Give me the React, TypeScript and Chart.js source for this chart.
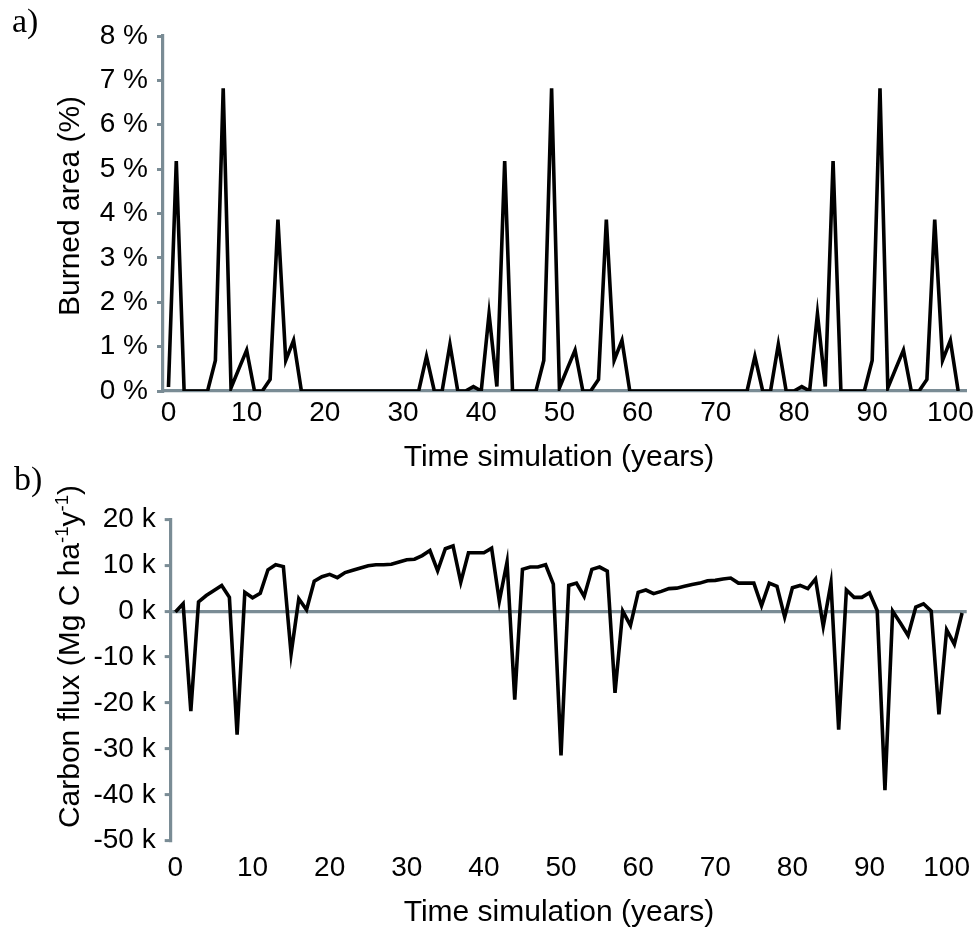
import React, { useEffect, useRef } from 'react';
import { Chart, registerables } from 'chart.js';

Chart.register(...registerables);

const GRAY = '#7a8c95';
const SANS = '"Liberation Sans", Arial, sans-serif';
const SERIF = '"Liberation Serif", "Times New Roman", serif';

// x-axis tick labels (years)
const xTickValues = [0, 10, 20, 30, 40, 50, 60, 70, 80, 90, 100];
// y-axis ticks
const burnedTicks = [0, 1, 2, 3, 4, 5, 6, 7, 8];
const fluxTicks = [-50000, -40000, -30000, -20000, -10000, 0, 10000, 20000];

// a) Burned area (%) per simulated year (years 0..101)
const burnedArea = [
  0.09, 5.18, 0, 0, 0, 0, 0.69, 6.82, 0.07, 0.5,
  0.92, 0, 0, 0.26, 3.86, 0.69, 1.14, 0, 0, 0,
  0, 0, 0, 0, 0, 0, 0, 0, 0, 0,
  0, 0, 0, 0.78, 0, 0, 1.05, 0, 0, 0.1,
  0, 1.74, 0.1, 5.18, 0, 0, 0, 0, 0.69, 6.82,
  0.07, 0.5, 0.92, 0, 0, 0.26, 3.86, 0.69, 1.14, 0,
  0, 0, 0, 0, 0, 0, 0, 0, 0, 0,
  0, 0, 0, 0, 0, 0.78, 0, 0, 1.05, 0,
  0, 0.1, 0, 1.74, 0.1, 5.18, 0, 0, 0, 0,
  0.69, 6.82, 0.07, 0.5, 0.92, 0, 0, 0.26, 3.86, 0.69,
  1.14, 0,
];

// b) Carbon flux (Mg C ha-1 y-1) per simulated year (years 0..102)
const carbonFlux = [
  -200, 1600, -21800, 2000, 3400, 4500, 5600, 3000, -26900, 4100,
  2900, 3900, 9000, 10100, 9700, -9300, 2700, 300, 6500, 7500,
  8000, 7300, 8400, 8900, 9400, 9900, 10100, 10100, 10200, 10700,
  11200, 11300, 12100, 13200, 8800, 13600, 14200, 6300, 12700, 12700,
  12700, 13700, 2200, 10700, -19300, 9100, 9600, 9600, 10100, 5900,
  -31400, 5600, 6100, 3200, 9100, 9600, 8700, -17800, 0, -3100,
  4100, 4600, 3800, 4300, 4900, 5000, 5400, 5800, 6100, 6600,
  6700, 7000, 7200, 6100, 6100, 6100, 1200, 6100, 5400, -1300,
  5100, 5600, 4900, 7000, -3300, 6100, -25800, 4600, 3000, 3000,
  4000, 100, -39000, 0, -2600, -5300, 900, 1600, 0, -22500,
  -4100, -7200, -400,
];

const xTitle = 'Time simulation (years)';
const yTitleA = 'Burned area (%)';
const yTitleB = [
  { t: 'Carbon flux (Mg C ha' },
  { t: '-1', sup: true },
  { t: 'y' },
  { t: '-1', sup: true },
  { t: ')' },
];

type Part = { t: string; sup?: boolean };
type TitleItem = { parts: Part[]; x: number; y: number; rotate?: boolean };

const richTitles = {
  id: 'richTitles',
  afterDraw(chart: any, _args: any, opts: any) {
    const ctx: CanvasRenderingContext2D = chart.ctx;
    const items: TitleItem[] = (opts && opts.items) || [];
    const size: number = (opts && opts.size) || 30;
    const fontFor = (p: Part) => `${p.sup ? size * 0.62 : size}px ${SANS}`;
    items.forEach((item) => {
      ctx.save();
      ctx.translate(item.x, item.y);
      if (item.rotate) ctx.rotate(-Math.PI / 2);
      ctx.fillStyle = '#000';
      ctx.textBaseline = 'alphabetic';
      ctx.textAlign = 'left';
      let total = 0;
      item.parts.forEach((p) => {
        ctx.font = fontFor(p);
        total += ctx.measureText(p.t).width;
      });
      let cx = -total / 2;
      item.parts.forEach((p) => {
        ctx.font = fontFor(p);
        ctx.fillText(p.t, cx, p.sup ? -size * 0.36 : 0);
        cx += ctx.measureText(p.t).width;
      });
      ctx.restore();
    });
  },
};

const tickFont = { family: SANS, size: 28 };
const LINE_W = 3.6;

function ChartA() {
  const ref = useRef<HTMLCanvasElement | null>(null);
  useEffect(() => {
    if (!ref.current) return;
    const chart = new Chart(ref.current, {
      type: 'line',
      data: {
        datasets: [
          {
            data: burnedArea.map((v, i) => ({ x: i, y: v })),
            borderColor: '#000',
            borderWidth: LINE_W,
            pointRadius: 0,
            tension: 0,
            fill: false,
            borderJoinStyle: 'miter',
          },
        ],
      },
      options: {
        responsive: false,
        animation: false,
        layout: { padding: { left: 0, top: 36, right: 8, bottom: 0 } },
        plugins: {
          legend: { display: false },
          tooltip: { enabled: false },
          richTitles: {
            size: 30,
            items: [
              { parts: [{ t: xTitle }], x: 559, y: 466 },
              { parts: [{ t: yTitleA }], x: 79, y: 206, rotate: true },
            ],
          },
        } as any,
        scales: {
          x: {
            type: 'linear',
            min: -0.7,
            max: 102,
            afterBuildTicks: (s: any) => {
              s.ticks = xTickValues.map((v) => ({ value: v }));
            },
            afterFit: (s: any) => {
              s.height = 89;
              s.paddingLeft = 0;
              s.paddingRight = 0;
            },
            grid: { display: false, drawTicks: false },
            border: { display: true, color: GRAY, width: 3.2 },
            ticks: {
              font: tickFont,
              color: '#000',
              padding: 5.5,
              maxRotation: 0,
              autoSkip: false,
              callback: (v: any) => String(v),
            },
          },
          y: {
            type: 'linear',
            min: 0,
            max: 8,
            afterBuildTicks: (s: any) => {
              s.ticks = burnedTicks.map((v) => ({ value: v }));
            },
            afterFit: (s: any) => {
              s.width = 163;
            },
            grid: {
              display: true,
              drawOnChartArea: false,
              drawTicks: true,
              tickLength: 6,
              color: GRAY,
              lineWidth: 3,
            },
            border: { display: true, color: GRAY, width: 3.2 },
            ticks: {
              font: tickFont,
              color: '#000',
              padding: 9,
              callback: (v: any) => `${v} %`,
            },
          },
        },
      } as any,
      plugins: [richTitles as any],
    });
    return () => chart.destroy();
  }, []);
  return (
    <canvas
      ref={ref}
      width={974}
      height={480}
      style={{ position: 'absolute', left: 0, top: 0, width: 974, height: 480, display: 'block' }}
    />
  );
}

function ChartB() {
  const ref = useRef<HTMLCanvasElement | null>(null);
  useEffect(() => {
    if (!ref.current) return;
    const chart = new Chart(ref.current, {
      type: 'line',
      data: {
        datasets: [
          {
            data: carbonFlux.map((v, i) => ({ x: i, y: v })),
            borderColor: '#000',
            borderWidth: LINE_W,
            pointRadius: 0,
            tension: 0,
            fill: false,
            borderJoinStyle: 'miter',
          },
        ],
      },
      options: {
        responsive: false,
        animation: false,
        layout: { padding: { left: 0, top: 59.3, right: 7.3, bottom: 0 } },
        plugins: {
          legend: { display: false },
          tooltip: { enabled: false },
          richTitles: {
            size: 30,
            items: [
              { parts: [{ t: xTitle }], x: 559, y: 461 },
              { parts: yTitleB, x: 79, y: 196.5, rotate: true },
            ],
          },
        } as any,
        scales: {
          x: {
            type: 'linear',
            min: -0.61,
            max: 102.6,
            afterBuildTicks: (s: any) => {
              s.ticks = xTickValues.map((v) => ({ value: v }));
            },
            afterFit: (s: any) => {
              s.height = 91.3;
              s.paddingLeft = 0;
              s.paddingRight = 0;
            },
            grid: { display: false, drawTicks: false },
            border: { display: false },
            ticks: {
              font: tickFont,
              color: '#000',
              padding: 10.8,
              maxRotation: 0,
              autoSkip: false,
              callback: (v: any) => String(v),
            },
          },
          y: {
            type: 'linear',
            min: -50000,
            max: 20000,
            afterBuildTicks: (s: any) => {
              s.ticks = fluxTicks.map((v) => ({ value: v }));
            },
            afterFit: (s: any) => {
              s.width = 170.7;
            },
            grid: {
              display: true,
              drawOnChartArea: true,
              drawTicks: true,
              tickLength: 6,
              color: (c: any) => (c.tick && c.tick.value === 0 ? GRAY : 'rgba(0,0,0,0)'),
              lineWidth: 3.2,
              tickColor: GRAY,
              tickWidth: 3,
            },
            border: { display: true, color: GRAY, width: 3.2 },
            ticks: {
              font: tickFont,
              color: '#000',
              padding: 9,
              callback: (v: any) => `${v / 1000} k`,
            },
          },
        },
      } as any,
      plugins: [richTitles as any],
    });
    return () => chart.destroy();
  }, []);
  return (
    <canvas
      ref={ref}
      width={974}
      height={472}
      style={{ position: 'absolute', left: 0, top: 460, width: 974, height: 472, display: 'block' }}
    />
  );
}

export default function App() {
  const labelStyle: React.CSSProperties = {
    position: 'absolute',
    fontFamily: SERIF,
    fontSize: 34,
    lineHeight: '34px',
    color: '#000',
    margin: 0,
  };
  return (
    <div
      style={{
        position: 'absolute',
        left: 0,
        top: 0,
        width: 974,
        height: 932,
        background: '#fff',
        overflow: 'hidden',
      }}
    >
      <ChartA />
      <ChartB />
      <div style={{ ...labelStyle, left: 12, top: 3.5 }}>a)</div>
      <div style={{ ...labelStyle, left: 14, top: 461.5 }}>b)</div>
    </div>
  );
}
